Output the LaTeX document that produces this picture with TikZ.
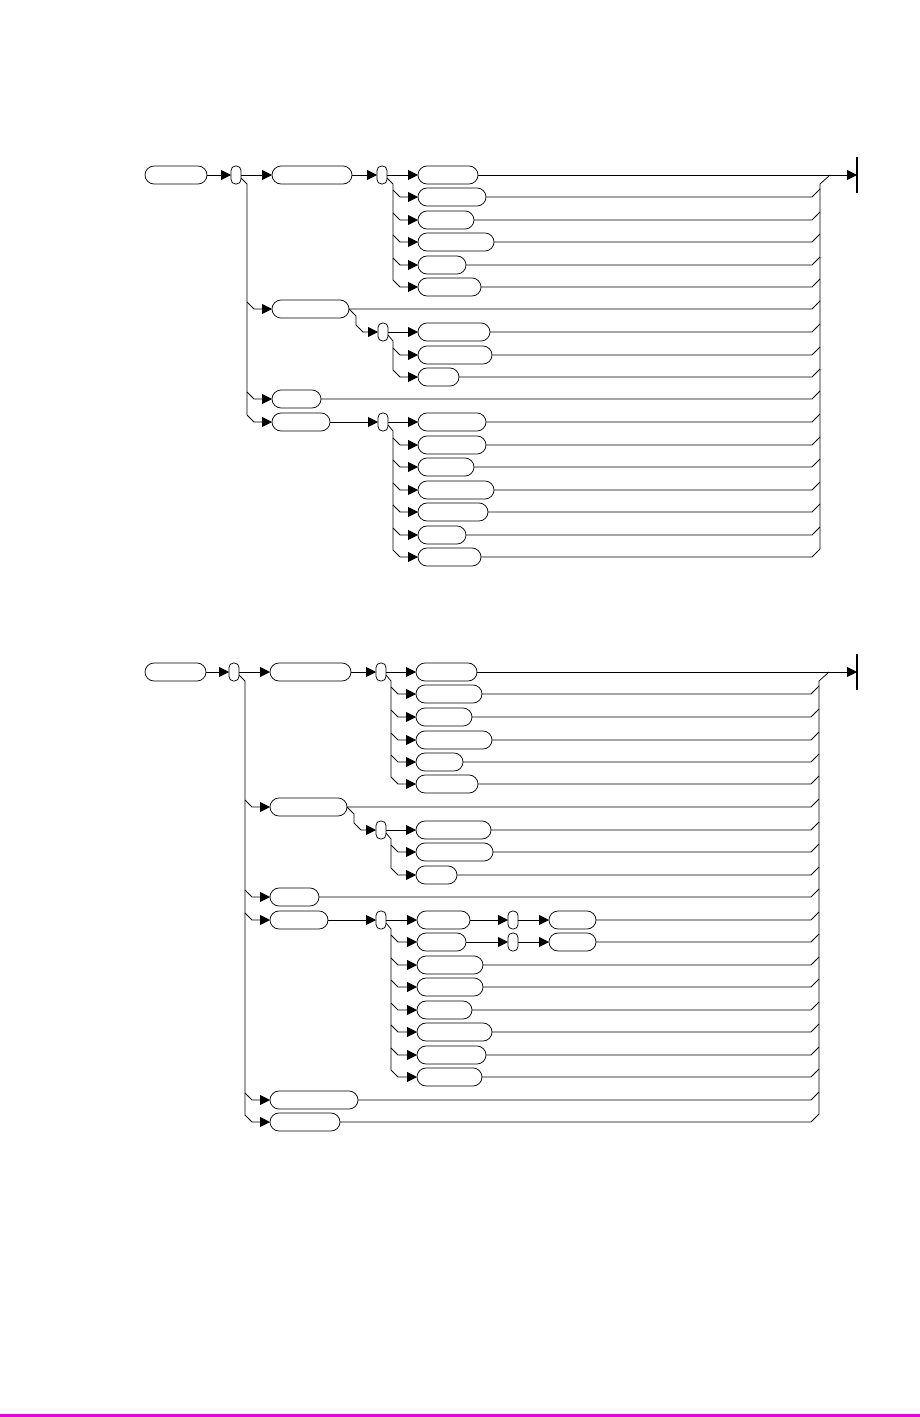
\documentclass[tikz,border=0pt]{standalone}
\usetikzlibrary{arrows.meta}
\definecolor{mag}{RGB}{230,0,230}
\newcommand{\mkpill}[4]{\node[pill, minimum width={(#3-#2)*1pt}] (#1) at ({(#2+#3)/2},#4) {};}
\newcommand{\mkjn}[3]{\node[jn] (#1) at ({#2+5},#3) {};}
% stem: junction, vertical x, junction y, last row y
\newcommand{\stem}[4]{\draw (#1.east) ++(0,3) -- ({#2},{#3+9}) -- ({#2},{#4-7});}
% branch: vertical x, row y, target
\newcommand{\brn}[3]{\draw[arr] ({#1},{#2-7}) -- ({#1+7},#2) -- (#3.west);}
% return: pill, row y, x end, x vertical
\newcommand{\ret}[4]{\draw (#1.east) -- (#3,#2) -- (#4,{#2-8});}
\begin{document}
\begin{tikzpicture}[x=1pt,y=-1pt,line width=0.75pt,
  pill/.style={draw, rounded corners=9pt, minimum height=18pt, inner sep=0pt, outer sep=0pt},
  jn/.style={draw, rounded corners=4.5pt, minimum height=18pt, minimum width=10pt, inner sep=0pt, outer sep=0pt},
  arr/.style={-{Triangle[length=10pt,width=10pt]}},
  endbar/.style={line width=1.6pt}]
\useasboundingbox (0,0) rectangle (920,1417);
\fill[mag] (0,1414) rectangle (920,1417);

%================ Diagram 1 ================
\mkpill{s1}{145}{207}{175}
\mkjn{j1a}{231}{175}
\mkpill{a1}{272}{352}{175}
\mkjn{j1b}{377}{175}
\mkpill{a11}{418}{478}{175}
\mkpill{a12}{418}{486}{197}
\mkpill{a13}{418}{474}{220}
\mkpill{a14}{418}{494}{242}
\mkpill{a15}{418}{466}{265}
\mkpill{a16}{418}{481}{287}
\mkpill{a2}{272}{349}{309}
\mkjn{j1c}{378}{332}
\mkpill{a21}{418}{490}{332}
\mkpill{a22}{418}{492}{355}
\mkpill{a23}{418}{459}{377}
\mkpill{a3}{272}{321}{399}
\mkpill{a4}{272}{330}{422}
\mkjn{j1d}{378}{422}
\mkpill{a41}{418}{486}{422}
\mkpill{a42}{418}{486}{445}
\mkpill{a43}{418}{474}{467}
\mkpill{a44}{418}{494}{490}
\mkpill{a45}{418}{488}{512}
\mkpill{a46}{418}{466}{535}
\mkpill{a47}{418}{481}{557}
\coordinate (e1) at (857,175);

\draw[arr] (s1.east) -- (j1a.west);
\draw[arr] (j1a.east) -- (a1.west);
\draw[arr] (a1.east) -- (j1b.west);
\draw[arr] (j1b.east) -- (a11.west);
\stem{j1b}{393}{175}{287}
\brn{393}{197}{a12}
\brn{393}{220}{a13}
\brn{393}{242}{a14}
\brn{393}{265}{a15}
\brn{393}{287}{a16}
\stem{j1a}{247}{175}{422}
\brn{247}{309}{a2}
\brn{247}{399}{a3}
\brn{247}{422}{a4}
\draw[arr] (a2.east) -- ++(7,7) -- ++(0,9) -- ++(7,7) -- (j1c.west);
\draw[arr] (j1c.east) -- (a21.west);
\stem{j1c}{393}{332}{377}
\brn{393}{355}{a22}
\brn{393}{377}{a23}
\draw[arr] (a4.east) -- (j1d.west);
\draw[arr] (j1d.east) -- (a41.west);
\stem{j1d}{393}{422}{557}
\brn{393}{445}{a42}
\brn{393}{467}{a43}
\brn{393}{490}{a44}
\brn{393}{512}{a45}
\brn{393}{535}{a46}
\brn{393}{557}{a47}
% returns
\ret{a12}{197}{812}{820}
\ret{a13}{220}{812}{820}
\ret{a14}{242}{812}{820}
\ret{a15}{265}{812}{820}
\ret{a16}{287}{812}{820}
\ret{a2}{309}{812}{820}
\ret{a21}{332}{812}{820}
\ret{a22}{355}{812}{820}
\ret{a23}{377}{812}{820}
\ret{a3}{399}{812}{820}
\ret{a41}{422}{812}{820}
\ret{a42}{445}{812}{820}
\ret{a43}{467}{812}{820}
\ret{a44}{490}{812}{820}
\ret{a45}{512}{812}{820}
\ret{a46}{535}{812}{820}
\ret{a47}{557}{812}{820}
\draw (820,549) -- (820,184) -- (830,175);
\draw[arr] (a11.east) -- (e1);
\draw[endbar] (857,157) -- (857,193);

%================ Diagram 2 ================
\mkpill{s2}{145}{206}{672}
\mkjn{j2a}{229}{672}
\mkpill{b1}{270}{351}{672}
\mkjn{j2b}{376}{672}
\mkpill{b11}{416}{477}{672}
\mkpill{b12}{416}{482}{694}
\mkpill{b13}{416}{472}{717}
\mkpill{b14}{416}{492}{740}
\mkpill{b15}{416}{463}{762}
\mkpill{b16}{416}{478}{784}
\mkpill{b2}{270}{347}{807}
\mkjn{j2c}{376}{830}
\mkpill{b21}{416}{491}{830}
\mkpill{b22}{416}{493}{852}
\mkpill{b23}{416}{457}{875}
\mkpill{b3}{270}{319}{897}
\mkpill{b4}{270}{328}{920}
\mkjn{j2d}{376}{920}
\mkpill{b41}{417}{470}{920}
\mkjn{j2e}{508}{920}
\mkpill{b41x}{549}{596}{920}
\mkpill{b42}{417}{466}{942}
\mkjn{j2f}{508}{942}
\mkpill{b42x}{549}{596}{942}
\mkpill{b43}{417}{483}{965}
\mkpill{b44}{417}{483}{987}
\mkpill{b45}{417}{472}{1010}
\mkpill{b46}{417}{492}{1032}
\mkpill{b47}{417}{486}{1055}
\mkpill{b48}{417}{482}{1077}
\mkpill{b5}{270}{358}{1100}
\mkpill{b6}{270}{340}{1122}
\coordinate (e2) at (857,672);

\draw[arr] (s2.east) -- (j2a.west);
\draw[arr] (j2a.east) -- (b1.west);
\draw[arr] (b1.east) -- (j2b.west);
\draw[arr] (j2b.east) -- (b11.west);
\stem{j2b}{391}{672}{784}
\brn{391}{694}{b12}
\brn{391}{717}{b13}
\brn{391}{740}{b14}
\brn{391}{762}{b15}
\brn{391}{784}{b16}
\stem{j2a}{245}{672}{1122}
\brn{245}{807}{b2}
\brn{245}{897}{b3}
\brn{245}{920}{b4}
\brn{245}{1100}{b5}
\brn{245}{1122}{b6}
\draw[arr] (b2.east) -- ++(7,7) -- ++(0,9) -- ++(7,7) -- (j2c.west);
\draw[arr] (j2c.east) -- (b21.west);
\stem{j2c}{391}{830}{875}
\brn{391}{852}{b22}
\brn{391}{875}{b23}
\draw[arr] (b4.east) -- (j2d.west);
\draw[arr] (j2d.east) -- (b41.west);
\stem{j2d}{391}{920}{1077}
\brn{391}{942}{b42}
\brn{391}{965}{b43}
\brn{391}{987}{b44}
\brn{391}{1010}{b45}
\brn{391}{1032}{b46}
\brn{391}{1055}{b47}
\brn{391}{1077}{b48}
\draw[arr] (b41.east) -- (j2e.west);
\draw[arr] (j2e.east) -- (b41x.west);
\draw[arr] (b42.east) -- (j2f.west);
\draw[arr] (j2f.east) -- (b42x.west);
% returns
\ret{b12}{694}{811}{819}
\ret{b13}{717}{811}{819}
\ret{b14}{740}{811}{819}
\ret{b15}{762}{811}{819}
\ret{b16}{784}{811}{819}
\ret{b2}{807}{811}{819}
\ret{b21}{830}{811}{819}
\ret{b22}{852}{811}{819}
\ret{b23}{875}{811}{819}
\ret{b3}{897}{811}{819}
\ret{b41x}{920}{811}{819}
\ret{b42x}{942}{811}{819}
\ret{b43}{965}{811}{819}
\ret{b44}{987}{811}{819}
\ret{b45}{1010}{811}{819}
\ret{b46}{1032}{811}{819}
\ret{b47}{1055}{811}{819}
\ret{b48}{1077}{811}{819}
\ret{b5}{1100}{811}{819}
\ret{b6}{1122}{811}{819}
\draw (819,1114) -- (819,681) -- (829,672);
\draw[arr] (b11.east) -- (e2);
\draw[endbar] (857,654) -- (857,690);
\end{tikzpicture}
\end{document}
